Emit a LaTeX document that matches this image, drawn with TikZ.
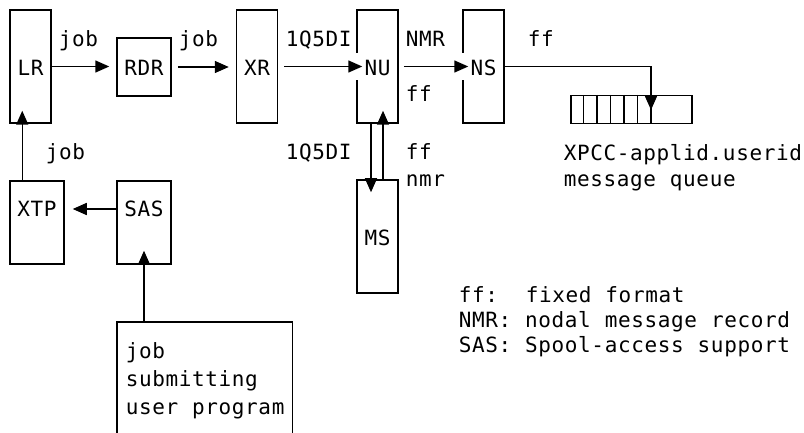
\documentclass[tikz,border=0pt]{standalone}
\usepackage{fontspec}
\setmonofont{DejaVu Sans Mono}[LetterSpace=3,WordSpace=1.05]
\usetikzlibrary{arrows.meta}

\begin{document}
\begin{tikzpicture}[
  x=1pt,y=-1pt,
  font=\ttfamily\fontsize{21pt}{25pt}\selectfont,
  line width=1.5pt,
  >={Triangle[length=14pt,width=12pt]},
  blk/.style={draw,inner sep=0pt,anchor=base},
  tall/.style={blk,minimum width=41pt,text height=66pt,text depth=47pt},
  wide/.style={blk,minimum width=54pt,text height=36pt,text depth=47pt},
  lbl/.style={inner sep=0pt,anchor=base west},
  gap/.style={draw=white,line width=3pt}
]
\useasboundingbox (0,0) rectangle (804,433);
% --- top row: reader chain -----------------------------------------------
\node[tall] (lr) at (30.5,76) {LR};
\node[blk,minimum width=54pt,text height=38pt,text depth=20pt] (rdr) at (144,76) {RDR};
\node[tall] (xr) at (257,76) {XR};
\node[tall] (nu) at (377.5,76) {NU};
\node[tall] (ns) at (483.5,76) {NS};
\node[blk,minimum width=41pt,text height=65pt,text depth=48pt] (ms) at (377.5,245) {MS};
\foreach \b in {nu,ns}
  \draw[gap] ([yshift=13.5pt]\b.west) -- ([yshift=-13.5pt]\b.west);
% --- queue ----------------------------------------------------------------
\node[draw,inner sep=0pt,minimum width=121pt,minimum height=28pt,anchor=north west] (queue) at (570,95) {};
\foreach \i in {1,...,6}
  \draw ([xshift=\i*13.5pt]queue.north west) -- ([xshift=\i*13.5pt]queue.south west);
\coordinate (qin) at ([xshift=81pt,yshift=-15pt]queue.north west);
% --- bottom left: submission ----------------------------------------------
\node[wide] (xtp) at (37,217) {XTP};
\node[wide] (sas) at (144,217) {SAS};
\node[inner sep=0pt,minimum width=174pt,minimum height=111pt,anchor=north west] (usr) at (117,322) {};
\draw (usr.south west) |- (usr.north east) -- (usr.south east);
\node[lbl,align=left,font=\ttfamily\fontsize{21pt}{28pt}\selectfont] (usrtxt) at (125,414)
  {job\\submitting\\user program};
% --- connectors -----------------------------------------------------------
\draw[->,shorten >=7pt] (lr.east) -- (lr.east -| rdr.west);
\draw[->,shorten <=6pt,shorten >=7pt] (rdr.east) -- (rdr.east -| xr.west);
\draw[->,shorten <=6pt,shorten >=-6pt] (xr.east) -- (nu.west);
\draw[->,shorten <=5pt,shorten >=-6pt] (nu.east) -- (ns.west);
\draw[->] (ns.east) -| (qin);
\draw[->,shorten >=8pt] ([yshift=8pt]sas.base west) -- ([yshift=8pt]sas.base west -| xtp.east);
\draw[->] ([xshift=13pt]xtp.north west) -- ([xshift=13pt,yshift=13pt]lr.south west);
\draw[->] (usr.north -| sas.south) -- ([yshift=14pt]sas.south);
\draw[->] ([xshift=-6.5pt]nu.south) -- ([xshift=-6.5pt,yshift=-13pt]ms.north);
\draw[->] ([xshift=5.5pt]ms.north) -- ([xshift=5.5pt,yshift=13pt]nu.south);
% --- labels ---------------------------------------------------------------
\node[lbl] (job1) at (58,47) {job};
\node[lbl] (job2) at (178,47) {job};
\node[lbl] (id1) at (285,47) {1Q5DI};
\node[lbl] (nmr1) at (405,47) {NMR};
\node[lbl] (ff1) at (405,102) {ff};
\node[lbl] (ff2) at (527,47) {ff};
\node[lbl] (job3) at (45,160) {job};
\node[lbl] (id2) at (285,160) {1Q5DI};
\node[lbl] (ff3) at (405,160) {ff};
\node[lbl] (nmr2) at (405,186) {nmr};
\node[lbl,align=left] (qname) at (563,186) {XPCC-applid.userid\\message queue};
\node[lbl,align=left] (legend) at (458,352)
  {ff:~~fixed format\\NMR: nodal message record\\SAS: Spool-access support};
\end{tikzpicture}
\end{document}
